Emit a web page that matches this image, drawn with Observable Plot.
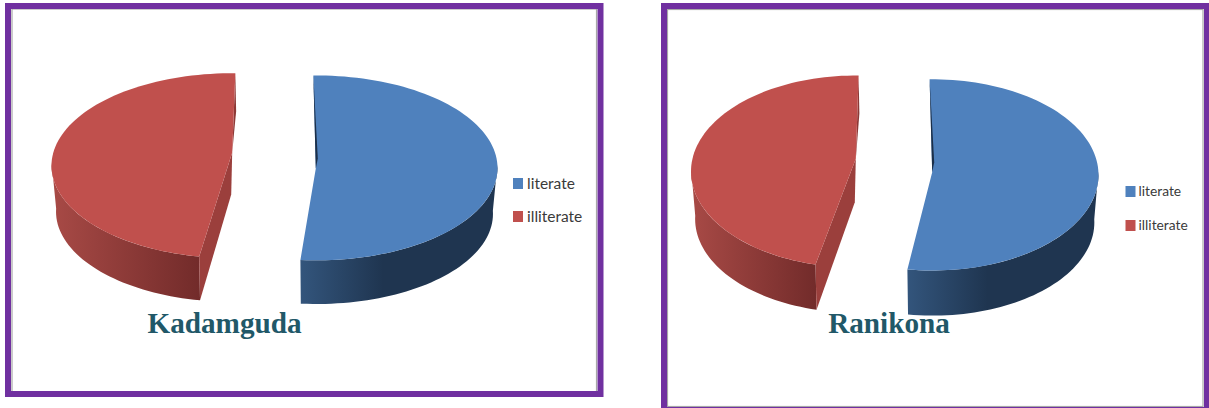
<!doctype html>
<html>
<head>
<meta charset="utf-8">
<style>
  html, body { margin: 0; padding: 0; background: #fff; overflow: hidden; }
</style>
<script src="https://cdn.jsdelivr.net/npm/d3@7"></script>
<script src="https://cdn.jsdelivr.net/npm/@observablehq/plot@0.6"></script>
</head>
<body>
<div id="chart"></div>
<script>
// Literacy shares per village
const categories = ["literate", "illiterate"];
const villages = ["Kadamguda", "Ranikona"];
const kadamgudaShares = [52, 48];
const ranikonaShares = [53, 47];

const topColors = ["#4f81bd", "#c0504d"];
const cutColors = ["#1f3550", "#9b3f3c"];
const sliverColors = ["#1b2f49", "#8d3936"];
const purple = "#7030a0";
const teal = "#215868";

// Drawing layout for the two exploded 3-D pies, in page units
const panels = [
  {
    name: villages[0], shares: kadamgudaShares,
    frame: [8, 6, 600.5, 394], inner: [12, 9, 596.5, 392],
    titleX: 224, legendX: 513, legendGap: 3.5, legendY: [183.5, 216.5], legendSize: 15.5,
    depth: 46,
    discs: [
      {cx: 316, cy: 167.4, rx: 181, ry: 92.4, apexX: 315.3, apexY: 168},
      {cx: 232, cy: 165.2, rx: 181, ry: 92.5, apexX: 231.7, apexY: 152}
    ]
  },
  {
    name: villages[1], shares: ranikonaShares,
    frame: [664, 6, 1207, 410], inner: [667.5, 9.5, 1203, 406.5],
    titleX: 888.5, legendX: 1125.5, legendGap: 2.5, legendY: [191.5, 225.5], legendSize: 13.8,
    depth: 47.5,
    discs: [
      {cx: 932, cy: 174.4, rx: 166, ry: 95.6, apexX: 931.7, apexY: 171.7},
      {cx: 855.5, cy: 171, rx: 165, ry: 96, apexX: 855.3, apexY: 158.3}
    ]
  }
];

// The view's perspective turns each slice edge slightly away from its true angle
const edgeTurn = [[-1, -2.1], [3.4, 0.9]];
const taper = 0.975;
const rad = Math.PI / 180;

function arcPoints(d, from, to, lower, depth) {
  const n = Math.max(2, Math.ceil(Math.abs(to - from) / 2));
  const k = lower ? taper : 1;
  return d3.range(n + 1).map((i) => {
    const a = (from + (to - from) * i / n) * rad;
    return {
      x: d.cx + k * d.rx * Math.sin(a),
      y: d.cy + (lower ? depth : 0) - k * d.ry * Math.cos(a)
    };
  });
}

const polygon = (points, fill) =>
  Plot.line(points, {x: "x", y: "y", fill, stroke: "none", curve: "linear"});

function pieMarks(panel) {
  const angles = d3.pie().sort(null)(panel.shares).map((s, i) => ({
    from: s.startAngle / rad + edgeTurn[i][0],
    to: s.endAngle / rad + edgeTurn[i][1]
  }));
  const marks = [];
  panel.discs.forEach((d, i) => {
    const {from, to} = angles[i];
    const apex = {x: d.apexX, y: d.apexY};
    const apexLow = {x: d.apexX - 1, y: d.apexY + panel.depth - 4};
    const faceEnd = i === 0 ? arcPoints(d, from, from, false)[0] : arcPoints(d, to, to, false)[0];
    const cutTop = i === 0 ? arcPoints(d, to, to, false)[0] : arcPoints(d, from, from, false)[0];
    const cutLow = i === 0 ? arcPoints(d, to, to, true, panel.depth)[0] : arcPoints(d, from, from, true, panel.depth)[0];

    // Outer wall, only the part facing the viewer
    const wallFrom = i === 0 ? 88 : from;
    const wallTo = i === 0 ? to : 272;
    marks.push(polygon(
      [...arcPoints(d, wallFrom, wallTo, false), ...arcPoints(d, wallTo, wallFrom, true, panel.depth)],
      i === 0 ? "url(#wall-literate)" : "url(#wall-illiterate)"
    ));
    // Cut face of the illiterate slice, turned towards the gap
    if (i === 1) marks.push(polygon([apex, cutTop, cutLow, apexLow], cutColors[i]));
    // Thin inner wall showing beside the top face
    if (i === 1) marks.push(polygon([faceEnd, {x: faceEnd.x + 0.8, y: faceEnd.y + 38}, apex], sliverColors[i]));
    // Top face
    marks.push(polygon([apex, ...arcPoints(d, from, to, false)], topColors[i]));
    // Inner wall of the literate slice seen over its face
    if (i === 0) marks.push(polygon([faceEnd, {x: d.apexX + 2, y: d.apexY - 10}, apex], sliverColors[i]));
  });
  return marks;
}

function frameMarks(panel) {
  const [x1, y1, x2, y2] = panel.frame;
  const [ix1, iy1, ix2, iy2] = panel.inner;
  return [
    Plot.rect([panel], {x1: () => ix1, y1: () => iy1, x2: () => ix2, y2: () => iy2, fill: "none", stroke: "#a8a8a8", strokeWidth: 1.2}),
    Plot.rect([panel], {x1: () => x1, y1: () => y1, x2: () => x2, y2: () => y2, fill: "none", stroke: purple, strokeWidth: 6})
  ];
}

function legendMarks(panel) {
  const rows = categories.map((category, i) => ({category, y: panel.legendY[i]}));
  const box = 10;
  return [
    Plot.rect(rows, {
      x1: () => panel.legendX, x2: () => panel.legendX + box,
      y1: (r) => r.y - box / 2 - 0.5, y2: (r) => r.y + box / 2 + 0.5,
      fill: "category"
    }),
    Plot.text(rows, {
      x: () => panel.legendX + box + panel.legendGap, y: "y", text: "category",
      textAnchor: "start", fontFamily: "Lato", fontSize: panel.legendSize, fill: "#3a3a3a"
    })
  ];
}

function titleMark(panel) {
  return Plot.text([panel.name], {
    x: () => panel.titleX, y: () => 323.5, text: (d) => d,
    fontFamily: "Liberation Serif", fontWeight: "bold", fontSize: 29.2, fill: teal
  });
}

// Side-wall shading, darkening from left to right
function gradient(id, stops) {
  const defs = d3.create("svg:defs");
  const g = defs.append("linearGradient").attr("id", id).attr("x1", 0).attr("x2", 1).attr("y1", 0).attr("y2", 0);
  stops.forEach(([offset, color]) => g.append("stop").attr("offset", offset).attr("stop-color", color));
  return () => defs.node();
}

const chart = Plot.plot({
  width: 1209,
  height: 408,
  margin: 0,
  style: {background: "#fff"},
  x: {domain: [0, 1209], range: [0, 1209], axis: null},
  y: {domain: [0, 408], range: [0, 408], axis: null},
  color: {domain: categories, range: topColors},
  marks: [
    gradient("wall-literate", [[0, "#33557c"], [0.42, "#1f3550"], [1, "#1f3550"]]),
    gradient("wall-illiterate", [[0, "#a84a46"], [1, "#722b2a"]]),
    ...panels.flatMap((p) => [...frameMarks(p), ...pieMarks(p), ...legendMarks(p), titleMark(p)])
  ]
});
document.getElementById("chart").appendChild(chart);
</script>
</body>
</html>
